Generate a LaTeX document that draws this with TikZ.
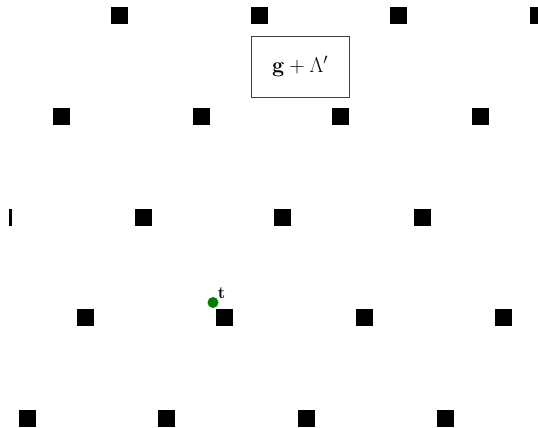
\RequirePackage{fix-cm}
\documentclass[tikz,border=0pt]{standalone}
\begin{document}
\begin{tikzpicture}[x=1pt,y=-1pt,
  latt/.style={rectangle,fill=black,minimum size=17pt,inner sep=0pt},
  labelbox/.style={draw=black!75,line width=0.8pt,fill=white,minimum width=98pt,minimum height=61pt,font=\fontsize{21.5}{26}\selectfont},
  pointdot/.style={circle,fill=green!50!black,minimum size=11pt,inner sep=0pt},
  pointlabel/.style={font=\fontsize{17}{20}\selectfont,inner sep=0pt}]
\useasboundingbox (0,0) rectangle (538,428);
\begin{scope}
\clip (9,0) rectangle (538,428);
\foreach \r/\xs in {0/119.5,1/61.5,2/3.5,3/85,4/27}
  \foreach \i in {0,...,3}
    \node[latt] (s\r\i) at ({\xs+139.5*\i},{15.5+100.8*\r}) {};
\end{scope}
\node[labelbox] (box) at (300,66.5) {$\mathbf{g}+\Lambda'$};
\node[pointdot] (t) at (213,302.5) {};
\node[pointlabel] (tl) at (221.5,293) {$\mathbf{t}$};
\end{tikzpicture}
\end{document}
